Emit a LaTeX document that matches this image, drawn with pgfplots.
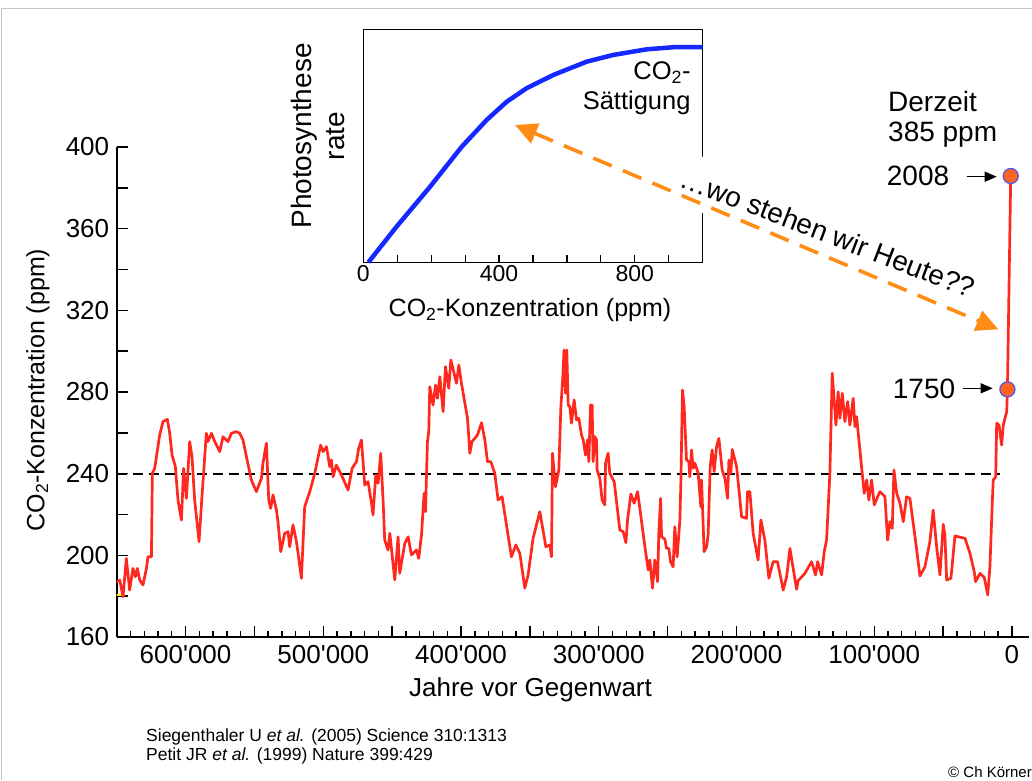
\documentclass[border=0pt]{standalone}
\usepackage{fontspec}
\setmainfont{Liberation Sans}
\usepackage{pgfplots}
\usepackage{pgfplotstable}
\pgfplotsset{compat=1.18}
\usetikzlibrary{arrows.meta}

\definecolor{co2red}{RGB}{255,40,30}
\definecolor{arrorange}{RGB}{255,140,20}
\definecolor{dotorange}{RGB}{255,100,30}
\definecolor{dotblue}{RGB}{80,90,230}
\definecolor{psblue}{RGB}{20,40,255}

% CO2 record, kyr before present / ppm
\pgfplotstableread{
t ppm
650.2 187.1
647.8 187.9
645.4 179.7
643.0 198.5
640.6 183.0
638.2 193.6
636.4 189.5
635.0 193.6
633.3 187.9
630.9 185.5
628.4 193.6
627.3 199.3
624.8 199.3
624.1 240.2
622.4 242.6
618.8 258.9
616.4 265.5
613.2 266.6
611.5 259.8
609.8 249.1
607.4 243.4
605.5 227.1
603.0 217.3
601.4 242.6
599.4 227.9
597.0 255.7
595.3 248.3
593.4 227.1
590.2 206.7
588.1 228.7
584.9 259.8
583.7 255.7
581.2 259.8
578.8 255.7
575.2 250.8
572.8 258.1
569.2 255.7
566.7 259.8
563.1 260.6
560.7 259.8
558.3 256.5
555.8 248.3
552.2 236.9
548.6 231.2
544.9 237.7
543.8 245.1
541.3 254.9
539.6 227.1
538.2 223.0
536.5 229.6
534.0 222.2
532.9 216.5
530.9 201.8
528.0 210.8
525.6 211.6
524.4 204.2
522.0 214.9
519.5 206.7
518.3 201.0
515.9 188.8
513.5 223.8
509.8 231.2
506.2 240.2
504.2 246.7
501.9 254.0
500.2 250.8
497.7 253.2
495.3 243.4
494.1 246.7
492.9 238.5
490.5 244.2
486.8 239.3
482.0 232.0
479.1 242.6
475.9 245.9
474.3 252.4
472.3 256.5
469.9 234.4
467.5 236.1
465.0 225.5
463.9 219.8
461.9 239.3
460.2 235.3
458.3 250.0
456.6 227.1
455.4 207.5
453.0 202.6
451.7 210.8
448.1 187.9
445.7 209.1
444.5 191.2
440.8 205.9
438.4 209.1
436.0 200.2
432.4 202.6
430.7 198.5
428.7 210.0
426.8 230.4
425.8 221.4
424.4 255.7
423.4 260.6
422.7 282.6
420.3 273.6
418.5 283.4
417.1 276.9
415.4 287.5
413.0 270.4
411.3 292.4
408.9 281.8
407.4 295.7
403.3 284.3
401.6 293.2
399.7 284.3
395.3 267.1
393.6 250.0
392.0 255.7
388.1 258.9
385.1 265.0
382.7 256.5
380.8 245.9
378.4 245.9
375.5 240.2
373.1 227.1
370.2 228.7
363.4 199.3
360.2 205.1
357.3 201.0
353.7 183.9
351.3 190.4
347.7 208.3
342.8 221.4
338.4 204.2
335.5 205.1
334.3 199.3
333.6 250.0
331.4 233.6
329.0 241.8
327.5 272.8
326.1 287.5
325.2 300.6
324.1 279.4
323.2 300.6
322.2 273.6
321.0 272.8
319.8 264.7
317.9 276.1
316.1 266.3
314.5 267.1
312.5 258.9
311.3 256.5
309.6 249.1
308.2 256.5
307.2 245.9
306.0 273.6
304.8 273.6
304.1 245.9
302.9 258.1
301.6 256.5
301.2 241.8
299.2 237.7
297.6 227.1
295.6 224.7
295.1 245.1
293.2 250.0
292.0 240.2
288.8 236.1
284.7 212.4
282.3 211.6
280.3 206.2
279.1 217.3
276.7 230.0
274.3 225.5
271.8 231.2
266.5 204.2
264.1 192.8
262.9 197.7
261.0 183.9
259.3 197.7
257.3 187.1
256.4 210.8
255.1 227.9
254.4 209.1
252.0 207.9
250.8 203.4
249.1 203.4
247.9 196.9
246.0 194.4
244.8 214.0
243.1 199.3
241.1 217.3
240.4 235.3
239.2 281.0
238.0 272.8
236.3 246.7
234.6 245.9
233.9 238.5
232.6 251.6
231.5 242.6
230.2 245.1
227.8 240.2
225.9 223.8
225.4 236.9
223.5 201.8
221.7 204.2
220.6 210.0
219.1 243.4
217.7 251.6
216.2 241.0
214.5 253.2
212.8 257.3
210.4 241.8
208.4 237.7
206.5 227.9
205.5 246.7
204.1 240.2
203.1 251.9
199.9 243.4
196.3 218.9
192.7 218.1
192.0 231.2
190.3 231.2
187.9 210.8
184.3 197.7
182.3 217.3
179.4 207.5
176.5 188.8
173.4 196.9
170.2 196.9
166.1 183.0
163.6 189.5
161.2 203.4
156.4 183.4
155.2 187.6
150.3 191.2
145.5 196.9
142.6 190.4
141.1 196.9
138.2 190.4
136.3 201.8
134.6 207.5
132.2 240.2
130.5 289.2
129.1 276.1
127.8 263.8
126.2 280.1
124.9 267.1
123.2 279.4
121.3 265.5
119.3 275.3
117.7 263.8
115.3 276.9
114.0 263.0
112.8 267.9
110.4 251.6
107.3 230.4
105.5 236.9
103.9 227.1
101.9 236.9
100.0 224.7
95.9 231.2
92.2 228.7
90.3 207.5
88.6 216.5
86.9 213.2
85.7 241.8
83.7 230.4
81.3 225.5
78.9 216.5
76.5 228.7
74.1 227.9
70.4 209.1
66.8 189.9
63.2 194.4
59.6 206.7
57.2 222.2
54.7 204.2
52.3 190.4
49.9 215.2
48.7 210.0
47.4 187.9
44.3 188.8
41.4 209.5
34.1 208.3
30.5 201.0
27.4 192.0
26.4 187.1
23.2 191.2
20.1 189.2
17.6 180.6
16.0 194.4
14.3 225.5
13.6 236.9
11.8 238.5
11.1 264.7
9.4 263.8
7.5 254.0
6.3 263.8
5.1 267.1
3.8 270.4
3.5 276.9
3.3 281.3
0.9 385.8
}\codata

% photosynthesis response (inset)
\pgfplotstableread{
c rate
15 0
98 15.3
196.5 32.4
290 49.6
363.6 61.1
422.5 68.9
481 74.7
560 80.4
658 86.1
736.6 89
835 91.4
913 92.3
1000 92.3
}\psdata

\newcommand{\fs}[1]{\fontsize{#1}{1.18\dimexpr#1pt\relax}\selectfont}

\begin{document}
\begin{tikzpicture}

\begin{axis}[
  at={(116.7pt,143pt)}, anchor=south west,
  scale only axis, width=911.8pt, height=490pt,
  x dir=reverse,
  xmin=-12, xmax=650, ymin=160, ymax=400,
  axis lines*=left,
  axis line style={line width=1.7pt},
  tick align=inside,
  tick style={black, line width=1.4pt},
  major tick length=11pt, minor tick length=6pt,
  xtick={0,50,...,650},
  xticklabels={0,,100\textquotesingle000,,200\textquotesingle000,,300\textquotesingle000,,400\textquotesingle000,,500\textquotesingle000,,600\textquotesingle000,},
  minor x tick num=4,
  ytick={160,180,...,400},
  yticklabels={160,,200,,240,,280,,320,,360,,400},
  ticklabel style={font=\fs{26}},
  x tick label style={yshift=-5pt},
  y tick label style={xshift=-4pt},
]
\addplot[black, line width=2pt, dash pattern=on 10pt off 6pt] coordinates {(650,240) (8.7,240)};
\addplot[yellow!85!orange, line width=2.6pt] coordinates {(650.2,180.6) (644.1,180.6)};
\addplot[co2red, line width=2.7pt, line join=round] table[x=t, y=ppm] {\codata};
\addplot[only marks, mark=*, mark size=7.5pt,
  mark options={fill=dotorange, draw=dotblue, line width=1.3pt}]
  coordinates {(3.3,281.3) (0.9,385.8)};
\end{axis}

% inset
\begin{axis}[
  at={(363.3pt,517.7pt)}, anchor=south west,
  scale only axis, width=339.4pt, height=233pt,
  xmin=0, xmax=1000, ymin=0, ymax=100,
  clip=false,
  axis line style={line width=1.3pt},
  tick pos=left, tick align=inside,
  tick style={black, line width=1.2pt},
  major tick length=7pt,
  xtick={0,100,...,1000},
  xticklabels={0,,,,400,,,,800,,},
  ytick=\empty,
  ticklabel style={font=\fs{23}},
]
\addplot[psblue, line width=4.5pt, line join=round] table[x=c, y=rate] {\psdata};
\end{axis}

\begin{scope}[x=1pt,y=1pt]
% slide frame
\draw[gray!45, line width=1pt] (1.5,0) -- (1.5,771.5) -- (1032,771.5);

% main axis titles
\node[font=\fs{26}] at (530.5,90) {Jahre vor Gegenwart};
\node[font=\fs{25}, rotate=90] at (38,390) {CO\textsubscript{2}-Konzentration (ppm)};

% inset titles
\node[font=\fs{25}] at (530,470) {CO\textsubscript{2}-Konzentration (ppm)};
\node[font=\fontsize{28}{33}\selectfont, rotate=90, align=center] at (318,644) {Photosynthese\\rate};
\node[font=\fontsize{25.5}{30}\selectfont, align=right, anchor=east, inner sep=0] at (690.7,692) {CO\textsubscript{2}-\\Sättigung};

% question along the arrow
\node[font=\fs{28}, rotate=-21, fill=white, inner xsep=3pt, inner ysep=16pt] at (828,547) {…wo stehen wir Heute??};
\draw[arrorange, line width=3.6pt, dash pattern=on 20pt off 12pt,
  {Triangle[length=22pt,width=21pt]}-{Triangle[length=22pt,width=21pt]}]
  (515,655) -- (998.3,450.7);

% present-day annotations
\node[font=\fs{28}, anchor=base west, inner sep=0] at (888,668.3) {Derzeit};
\node[font=\fs{28}, anchor=base west, inner sep=0] at (888,638.3) {385 ppm};
\node[font=\fs{28}, anchor=base west, inner sep=0] at (886.7,594) {2008};
\node[font=\fs{28}, anchor=base west, inner sep=0] at (892.7,382) {1750};
\draw[line width=1.3pt, -{Triangle[length=12pt,width=10pt]}] (966.7,603.3) -- (996.7,603.3);
\draw[line width=1.3pt, -{Triangle[length=12pt,width=10pt]}] (962.7,391.7) -- (992.7,391.7);

% sources
\node[font=\fs{17.5}, anchor=base west, inner sep=0] at (146,39) {Siegenthaler U \textit{et al.} (2005) Science 310:1313};
\node[font=\fs{17.5}, anchor=base west, inner sep=0] at (146,20) {Petit JR \textit{et al.} (1999) Nature 399:429};
\node[font=\fs{15}, anchor=base east, inner sep=0] at (1032,3) {© Ch Körner};

\pgfresetboundingbox
\path[use as bounding box] (0,0) rectangle (1032,780);
\end{scope}
\end{tikzpicture}
\end{document}
